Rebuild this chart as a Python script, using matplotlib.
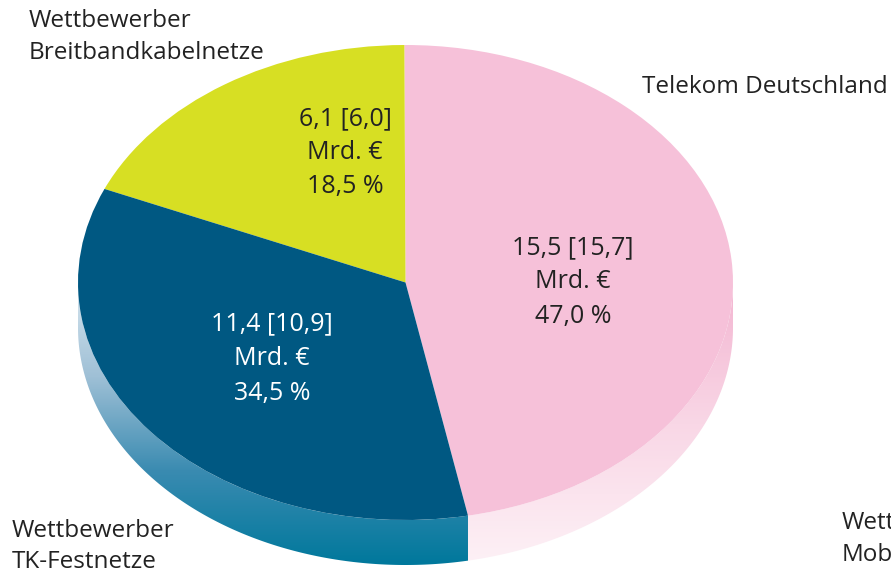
import numpy as np
import matplotlib.pyplot as plt
from matplotlib.colors import LinearSegmentedColormap
from matplotlib.patches import Polygon

# data
segments = ['Telekom Deutschland', 'Wettbewerber\nBreitbandkabelnetze', 'Wettbewerber\nTK-Festnetze']
revenue_bn = [15.5, 6.1, 11.4]
revenue_prev_bn = [15.7, 6.0, 10.9]
share_pct = [47.0, 18.5, 34.5]
extra_label = 'Wettbewerber\nMobilfunknetze'

top_colors = ['#f6c1d9', '#d7df23', '#005882']
side_colors = [['#fdf1f6', '#f9d7e6', '#f3b5d1'],
               ['#c9cf20', '#c9cf20', '#c9cf20'],
               ['#00789c', '#3a8bb1', '#9fc0d6', '#d8e6ef']]
text_colors = ['#222222', '#222222', '#ffffff']

W, H = 891, 574
cx, cy = 405.5, 282.5        # centre of top ellipse (px)
rx, ry = 327.5, 237.5        # semi axes (px)
depth = 45 / ry              # side depth in data units
start = 281

FONT = 'Open Sans'


def fmt(v):
    return ('%.1f' % v).replace('.', ',')


def px(x, y):
    # pixel (from top-left) -> figure fraction
    return x / W, 1 - y / H


fig = plt.figure(figsize=(W / 100, H / 100), dpi=100)
ax = fig.add_axes([0, 0, 1, 1])

wedges, _ = ax.pie(share_pct, colors=top_colors, startangle=start, counterclock=True,
                   radius=1, center=(0, 0), wedgeprops=dict(linewidth=0))
for w in wedges:
    w.set_zorder(2)

# side of the cake, only the front half is visible
bounds = start + np.concatenate([[0], np.cumsum(share_pct)]) / np.sum(share_pct) * 360
for i in range(len(share_pct)):
    t1, t2 = bounds[i], bounds[i + 1]
    for lo, hi in [(180, 360), (540, 720)]:
        a, b = max(t1, lo), min(t2, hi)
        if b <= a:
            continue
        t = np.radians(np.linspace(a, b, 200))
        xs = np.cos(t)
        ys = np.sin(t)
        pts = np.vstack([np.column_stack([xs, ys]),
                         np.column_stack([xs[::-1], ys[::-1] - depth])])
        poly = Polygon(pts, closed=True, facecolor='none', edgecolor='none')
        ax.add_patch(poly)
        cmap = LinearSegmentedColormap.from_list('side%d' % i, side_colors[i])
        grad = np.linspace(0, 1, 256).reshape(-1, 1)
        im = ax.imshow(grad, cmap=cmap, origin='lower', aspect='auto',
                       extent=[xs.min(), xs.max(), -1 - depth, ys.max()], zorder=1)
        im.set_clip_path(poly)

ax.set_aspect('auto')
ax.set_xlim(-cx / rx, (W - cx) / rx)
ax.set_ylim(-(H - cy) / ry, cy / ry)
ax.axis('off')

# values inside the slices
inner_pos = [(573, [254, 288, 323]), (345, [125, 159, 193]), (272, [330, 365, 400])]
for i, (x, ys) in enumerate(inner_pos):
    lines = ['%s [%s]' % (fmt(revenue_bn[i]), fmt(revenue_prev_bn[i])), 'Mrd. €',
             '%s %%' % fmt(share_pct[i])]
    for line, y in zip(lines, ys):
        fig.text(*px(x, y), line, ha='center', va='baseline', fontsize=18,
                 color=text_colors[i], family=FONT, zorder=5)

# outer labels
outer_pos = [(642, [93]), (29, [27, 59]), (12, [537, 568])]
for i, (x, ys) in enumerate(outer_pos):
    for line, y in zip(segments[i].split('\n'), ys):
        fig.text(*px(x, y), line, ha='left', va='baseline', fontsize=17.5,
                 color='#222222', family=FONT)
for line, y in zip(extra_label.split('\n'), [529, 561]):
    fig.text(*px(842, y), line, ha='left', va='baseline', fontsize=17.5,
             color='#222222', family=FONT)

fig.savefig('out.png', dpi=100)
